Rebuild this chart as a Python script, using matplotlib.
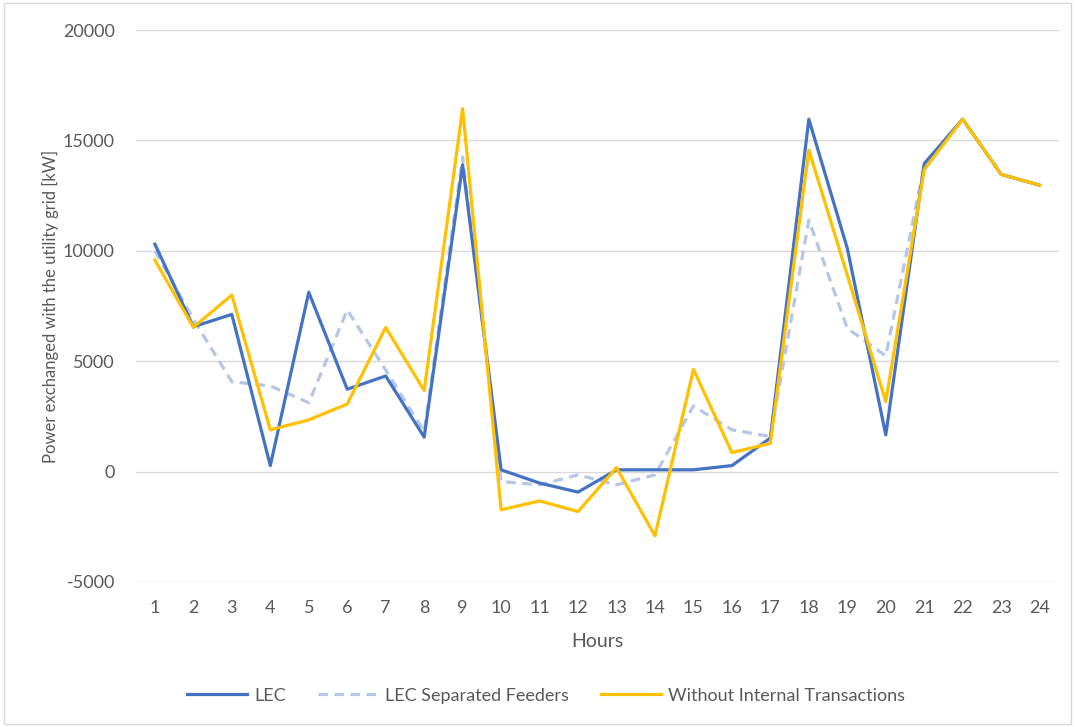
import matplotlib.pyplot as plt
from matplotlib.patches import Rectangle

hours = list(range(1, 25))

lec = [10300, 6560, 7120, 270, 8120, 3730, 4330, 1560, 13900, 80, -520, -930,
       80, 80, 80, 270, 1520, 15960, 10110, 1660, 13950, 15960, 13460, 12970]
lec_separated = [10000, 6900, 4070, 3880, 3120, 7320, 4600, 1810, 14250, -450, -600, -150,
                 -600, -150, 2970, 1890, 1590, 11390, 6490, 5240, 13880, 15960, 13460, 12970]
without_internal = [9580, 6530, 8000, 1890, 2340, 3060, 6530, 3670, 16440, -1730, -1330, -1810,
                    180, -2910, 4630, 860, 1280, 14560, 8900, 3170, 13680, 15960, 13460, 12970]

y_ticks = [-5000, 0, 5000, 10000, 15000, 20000]

plt.rcParams['font.family'] = ['Lato', 'DejaVu Sans']
plt.rcParams['axes.unicode_minus'] = False
text_color = '#595959'

fig = plt.figure(figsize=(10.75, 7.27), dpi=100)
ax = fig.add_axes([0.1262, 0.1995, 0.8588, 0.7592])

ax.plot(hours, lec, color='#4472C4', lw=2.3, label='LEC', zorder=3)
ax.plot(hours, lec_separated, color='#B4C7E7', lw=2.3, ls=(0, (3, 2)), label='LEC Separated Feeders', zorder=2)
ax.plot(hours, without_internal, color='#FFC000', lw=2.3, label='Without Internal Transactions', zorder=4)

ax.set_xlim(0.5, 24.5)
ax.set_ylim(-5000, 20000)
ax.set_xticks(hours)
ax.set_yticks(y_ticks)
ax.tick_params(axis='both', length=0, labelsize=13, colors=text_color)
ax.tick_params(axis='x', pad=13)
ax.tick_params(axis='y', pad=15)
ax.grid(axis='y', color='#D9D9D9', lw=1)
ax.set_axisbelow(True)
for s in ax.spines.values():
    s.set_visible(False)

ax.set_xlabel('Hours', fontsize=14, color=text_color, labelpad=12)
ax.set_ylabel('Power exchanged with the utility grid [kW]', fontsize=12, color=text_color, labelpad=3)

leg = fig.legend(loc='center', bbox_to_anchor=(0.508, 0.043), ncol=3, frameon=False,
                 fontsize=13, handlelength=3.3, handletextpad=0.4, columnspacing=1.8)
for t in leg.get_texts():
    t.set_color(text_color)

fig.patches.append(Rectangle((0.004, 0.004), 0.992, 0.992, transform=fig.transFigure,
                             fill=False, edgecolor='#D9D9D9', lw=1))

fig.savefig('out.png', dpi=100)
